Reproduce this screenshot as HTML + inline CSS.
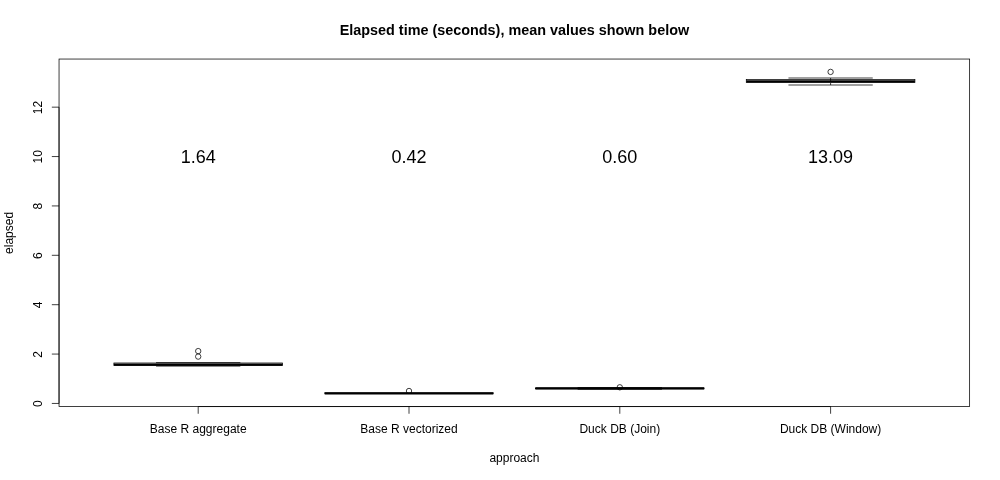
<!DOCTYPE html>
<html><head><meta charset="utf-8">
<style>
html,body{margin:0;padding:0;background:#fff;}
svg{display:block;font-family:"Liberation Sans",sans-serif;fill:#000;}
</style></head><body>
<svg width="1000" height="480" viewBox="0 0 1000 480">
<rect width="1000" height="480" fill="#fff"/>
<!-- title -->
<text x="514.4" y="35" font-size="14.4" font-weight="bold" text-anchor="middle">Elapsed time (seconds), mean values shown below</text>
<!-- plot box -->
<rect x="59.04" y="59.04" width="910.6" height="347.5" fill="none" stroke="#000" stroke-width="0.75"/>
<!-- y axis -->
<g stroke="#000" stroke-width="0.75" fill="none">
<path d="M59.04 403.45V107.17"/>
<path d="M198.2 406.56H830.6"/>
<path d="M59.04 403.45H51.84M59.04 354.07H51.84M59.04 304.69H51.84M59.04 255.31H51.84M59.04 205.93H51.84M59.04 156.55H51.84M59.04 107.17H51.84"/>
<!-- x axis ticks -->
<path d="M198.2 406.56V413.76M409 406.56V413.76M619.8 406.56V413.76M830.6 406.56V413.76"/>
</g>
<g font-size="12" text-anchor="middle">
<text transform="translate(41.6 403.75) rotate(-90)">0</text>
<text transform="translate(41.6 354.37) rotate(-90)">2</text>
<text transform="translate(41.6 304.99) rotate(-90)">4</text>
<text transform="translate(41.6 255.61) rotate(-90)">6</text>
<text transform="translate(41.6 206.23) rotate(-90)">8</text>
<text transform="translate(41.6 156.85) rotate(-90)">10</text>
<text transform="translate(41.6 107.47) rotate(-90)">12</text>
<text x="198.2" y="433">Base R aggregate</text>
<text x="409" y="433">Base R vectorized</text>
<text x="619.8" y="433">Duck DB (Join)</text>
<text x="830.6" y="433">Duck DB (Window)</text>
<text x="514.4" y="462">approach</text>
<text transform="translate(12.7 232.9) rotate(-90)">elapsed</text>
</g>
<g font-size="18" text-anchor="middle">
<text x="198.2" y="163">1.64</text>
<text x="409" y="163">0.42</text>
<text x="619.8" y="163">0.60</text>
<text x="830.6" y="163">13.09</text>
</g>
<!-- boxes -->
<g stroke="#000" fill="none" stroke-width="0.75">
<!-- box1 -->
<path d="M156.05 362.6H240.35M156.05 366.1H240.35"/>
<rect x="113.9" y="363" width="168.6" height="2.5"/>
<path d="M113.9 364.6H282.5" stroke-width="2.25"/>
<circle cx="198.2" cy="351.1" r="2.7"/>
<circle cx="198.2" cy="356.6" r="2.7"/>
<!-- box2 -->
<rect x="324.7" y="392.9" width="168.6" height="0.7"/>
<path d="M324.7 393.25H493.3" stroke-width="2.25"/>
<circle cx="409" cy="391" r="2.7"/>
<!-- box3 -->
<path d="M577.65 387.5H661.95M577.65 389.3H661.95"/>
<rect x="535.5" y="388" width="168.6" height="0.8"/>
<path d="M535.5 388.4H704.1" stroke-width="2.25"/>
<circle cx="619.8" cy="387.3" r="2.7"/>
<!-- box4 -->
<path d="M830.6 78V85" stroke-dasharray="3 2"/>
<path d="M788.45 78H872.75M788.45 85H872.75"/>
<rect x="746.3" y="79.5" width="168.6" height="3"/>
<path d="M746.3 81.3H914.9" stroke-width="2.25"/>
<circle cx="830.6" cy="71.9" r="2.7"/>
</g>
</svg>
</body></html>
